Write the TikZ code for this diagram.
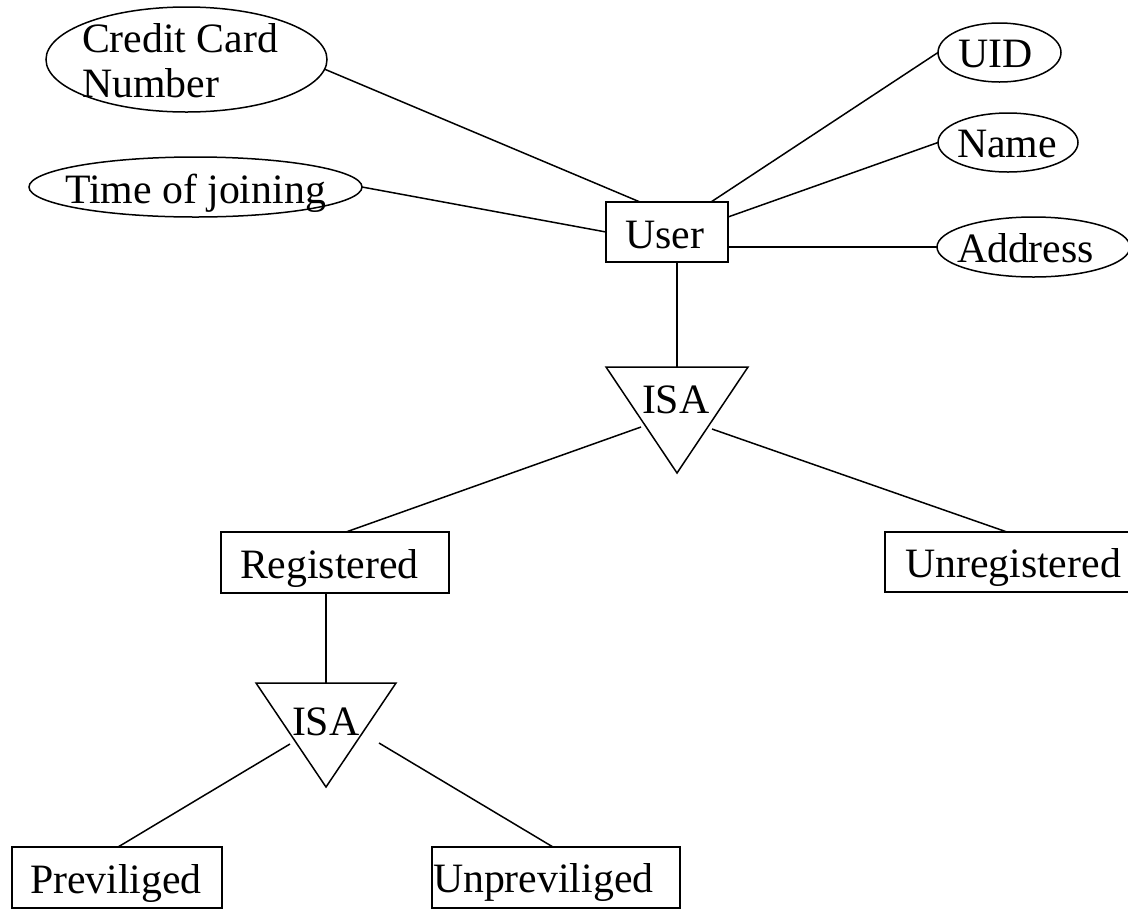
\documentclass[tikz,border=0pt]{standalone}
\usepackage{fontspec}
\setmainfont{Liberation Serif}
\usetikzlibrary{shapes.geometric,calc}
\begin{document}
\begin{tikzpicture}[x=0.5pt,y=-0.5pt,
  line width=0.75pt,
  attr/.style={draw,ellipse,inner sep=0pt,outer sep=0pt},
  entity/.style={draw,rectangle,inner sep=0pt,outer sep=0pt},
  txt/.style={inner sep=0pt,outer sep=0pt,anchor=base west,
    font=\fontsize{20.9pt}{22.5pt}\selectfont},
  link/.style={draw}]
\useasboundingbox (0,0) rectangle (1128,911);

% attributes of User
\node[attr,minimum width=140.5pt,minimum height=52.5pt] (cc) at (186.5,59.5) {};
\node[txt,align=left] (cct) at (82,97) {Credit Card\\Number};
\node[attr,minimum width=166.5pt,minimum height=30pt] (time) at (195.5,187) {};
\node[txt] (timet) at (65,203) {Time of joining};
\node[attr,minimum width=61.5pt,minimum height=29.5pt] (uid) at (999.5,52.5) {};
\node[txt] (uidt) at (958,67) {UID};
\node[attr,minimum width=70pt,minimum height=29.5pt] (name) at (1008,142.5) {};
\node[txt] (namet) at (957,157) {Name};
\node[attr,minimum width=96.5pt,minimum height=30pt] (addr) at (1033.5,247) {};
\node[txt] (addrt) at (957,262) {Address};

% entities
\node[entity,minimum width=61pt,minimum height=30pt] (user) at (667,232) {};
\node[txt] (usert) at (625,248) {User};
\node[entity,minimum width=114pt,minimum height=30.5pt] (reg) at (335,562.5) {};
\node[txt] (regt) at (240,578) {Registered};
\node[entity,minimum width=123.5pt,minimum height=30pt] (unreg) at (1008.5,562) {};
\node[txt] (unregt) at (905,577) {Unregistered};
\node[entity,minimum width=105pt,minimum height=30.5pt] (prev) at (117,877.5) {};
\node[txt] (prevt) at (30,893) {Previliged};
\node[entity,minimum width=124pt,minimum height=30.5pt] (unprev) at (556,877.5) {};
\node[txt] (unprevt) at (433,892) {Unpreviliged};

% ISA triangles
\coordinate (isa1-tl) at (606,367);
\coordinate (isa1-tr) at (748,367);
\coordinate (isa1-b) at (677,473);
\coordinate (isa1-top) at (677,367);
\coordinate (isa1-l) at (641,427);
\coordinate (isa1-r) at (712,429);
\draw (isa1-tl) -- (isa1-tr) -- (isa1-b) -- cycle;
\node[txt] (isa1) at (642,413) {ISA};

\coordinate (isa2-tl) at (256,683);
\coordinate (isa2-tr) at (396,683);
\coordinate (isa2-b) at (326,787);
\coordinate (isa2-top) at (326,683);
\coordinate (isa2-l) at (290,744);
\coordinate (isa2-r) at (379,743);
\draw (isa2-tl) -- (isa2-tr) -- (isa2-b) -- cycle;
\node[txt] (isa2) at (292,735) {ISA};

% connectors
\draw[link] (cc.-4) -- ($(user.north west)+(34,0)$);
\draw[link] (time.east) -- ($(user.north west)+(0,30)$);
\draw[link] (uid.west) -- ($(user.north west)+(105,0)$);
\draw[link] (name.west) -- ($(user.north east)+(0,15)$);
\draw[link] (addr.west) -- (user.east |- addr.west);
\draw[link] ($(user.south)+(10,0)$) -- (isa1-top);
\draw[link] (isa1-l) -- ($(reg.north west)+(125,0)$);
\draw[link] (isa1-r) -- ($(unreg.north west)+(122,0)$);
\draw[link] ($(reg.south west)+(105,0)$) -- (isa2-top);
\draw[link] (isa2-l) -- ($(prev.north west)+(106,0)$);
\draw[link] (isa2-r) -- ($(unprev.north west)+(121,0)$);
\end{tikzpicture}
\end{document}
